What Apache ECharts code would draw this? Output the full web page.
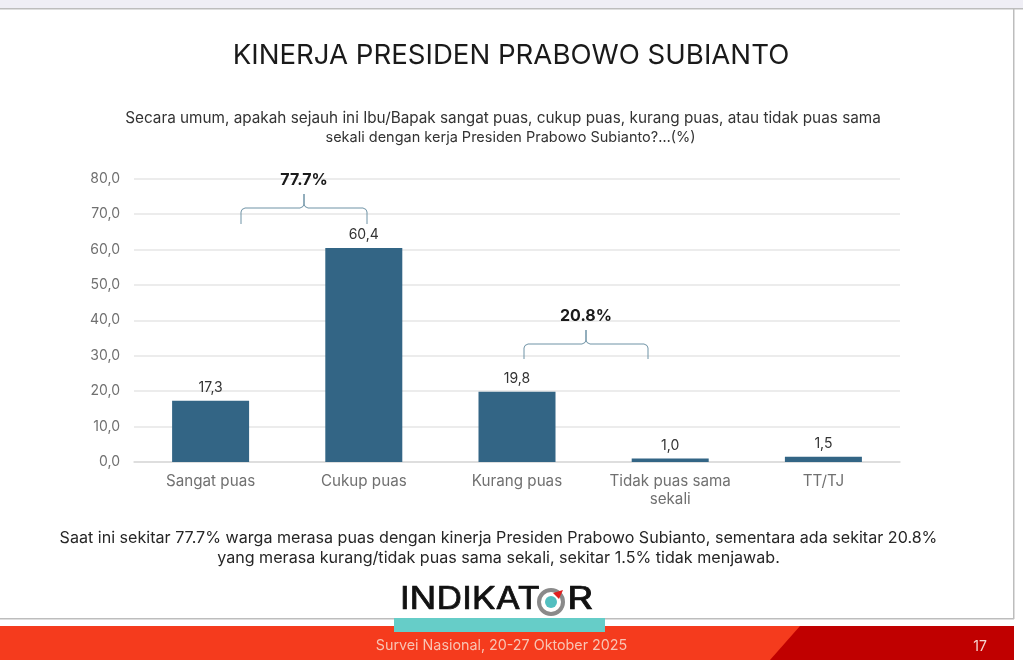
<!DOCTYPE html>
<html lang="id">
<head>
<meta charset="UTF-8">
<title>Kinerja Presiden</title>
<script src="https://cdn.jsdelivr.net/npm/echarts@6/dist/echarts.min.js"></script>
<style>
  html, body { margin: 0; padding: 0; background: #fff; }
  #chart { width: 1023px; height: 660px; }
</style>
</head>
<body>
<div id="chart"></div>
<script>
const categories = ['Sangat puas', 'Cukup puas', 'Kurang puas', 'Tidak puas sama\nsekali', 'TT/TJ'];
const values = [17.3, 60.4, 19.8, 1.0, 1.5];
const yTicks = { min: 0, max: 80, interval: 10 };

const titleText = 'KINERJA PRESIDEN PRABOWO SUBIANTO';
const questionLine1 = 'Secara umum, apakah sejauh ini Ibu/Bapak sangat puas, cukup puas, kurang puas, atau tidak puas sama';
const questionLine2 = 'sekali dengan kerja Presiden Prabowo Subianto?…(%)';
const noteText = 'Saat ini sekitar 77.7% warga merasa puas dengan kinerja Presiden Prabowo Subianto, sementara ada sekitar 20.8%\nyang merasa kurang/tidak puas sama sekali, sekitar 1.5% tidak menjawab.';
const footerText = 'Survei Nasional, 20-27 Oktober 2025';
const pageNumber = '17';

const font = 'Inter';
const comma = function (v) { return v.toFixed(1).replace('.', ','); };

// curly bracket as a polyline, tip on top
function bracket(x1, x2, top, y, bottom) {
  const m = (x1 + x2) / 2;
  return [
    [x1, bottom], [x1, y + 4], [x1 + 1, y + 1.5], [x1 + 4, y],
    [m - 4, y], [m - 1, y - 1.5], [m, y - 4], [m, top], [m, y - 4], [m + 1, y - 1.5], [m + 4, y],
    [x2 - 4, y], [x2 - 1, y + 1.5], [x2, y + 4], [x2, bottom]
  ];
}

var myChart = echarts.init(document.getElementById('chart'), null, { renderer: 'canvas' });

var option = {
  animation: false,
  backgroundColor: '#ffffff',
  textStyle: { fontFamily: font },
  grid: { left: 134, right: 123, top: 178.5, bottom: 198 },
  xAxis: {
    type: 'category',
    data: categories,
    axisTick: { show: false },
    axisLine: { lineStyle: { color: '#d9d9d9', width: 1.5 } },
    axisLabel: { color: '#707070', fontSize: 15.2, margin: 10, lineHeight: 18, interval: 0, fontFamily: font }
  },
  yAxis: {
    type: 'value',
    min: yTicks.min,
    max: yTicks.max,
    interval: yTicks.interval,
    axisLine: { show: false },
    axisTick: { show: false },
    splitLine: { lineStyle: { color: '#e6e6e6', width: 1.5 } },
    axisLabel: { color: '#707070', fontSize: 14, margin: 14, padding: [4, 0, 0, 0], formatter: comma, fontFamily: font }
  },
  series: [{
    type: 'bar',
    data: values,
    barWidth: 77,
    itemStyle: { color: '#336585' },
    label: {
      show: true,
      position: 'top',
      distance: 6,
      color: '#333333',
      fontSize: 14,
      fontFamily: font,
      formatter: function (p) { return comma(p.value); }
    }
  }],
  graphic: [
    // slide frame
    { type: 'rect', z: -10, silent: true, shape: { x: 0, y: 0, width: 1023, height: 8 }, style: { fill: '#efeef5' } },
    { type: 'rect', z: -10, silent: true, shape: { x: 0, y: 8, width: 1023, height: 1.5 }, style: { fill: '#bdbdbd' } },
    { type: 'rect', z: -10, silent: true, shape: { x: 0, y: 618, width: 1014, height: 1.5 }, style: { fill: '#bdbdbd' } },
    { type: 'rect', z: -10, silent: true, shape: { x: 1013, y: 8, width: 1.5, height: 611 }, style: { fill: '#bdbdbd' } },
    // footer
    { type: 'rect', z: 1, silent: true, shape: { x: 0, y: 626, width: 1014, height: 34 }, style: { fill: '#f53b1d' } },
    { type: 'polygon', z: 2, silent: true, shape: { points: [[800, 626], [1014, 626], [1014, 660], [770, 660]] }, style: { fill: '#c00000' } },
    { type: 'rect', z: 3, silent: true, shape: { x: 394, y: 618, width: 211, height: 14 }, style: { fill: '#66cdc8' } },
    { type: 'text', z: 4, silent: true, style: { x: 501.5, y: 646, text: footerText, fill: '#f8c4b4', font: '14.3px ' + font, align: 'center', verticalAlign: 'middle' } },
    { type: 'text', z: 4, silent: true, style: { x: 980, y: 647, text: pageNumber, fill: '#f6d5d0', font: '14px ' + font, align: 'center', verticalAlign: 'middle' } },
    // heading texts
    { type: 'text', silent: true, style: { x: 511, y: 56, text: titleText, fill: '#1a1a1a', font: '27.6px ' + font, align: 'center', verticalAlign: 'middle' } },
    { type: 'text', silent: true, style: { x: 503, y: 118, text: questionLine1, fill: '#333333', font: '15.3px ' + font, align: 'center', verticalAlign: 'middle' } },
    { type: 'text', silent: true, style: { x: 510.5, y: 138, text: questionLine2, fill: '#333333', font: '14.5px ' + font, align: 'center', verticalAlign: 'middle' } },
    { type: 'text', silent: true, style: { x: 498.5, y: 548, text: noteText, fill: '#262626', font: '16.1px ' + font, lineHeight: 20, align: 'center', verticalAlign: 'middle' } },
    // brackets
    { type: 'polyline', z: 5, silent: true, shape: { points: bracket(241, 367, 194, 208, 224) }, style: { fill: null, stroke: '#6f93a6', lineWidth: 1 } },
    { type: 'text', z: 5, silent: true, style: { x: 304, y: 180, text: '77.7%', fill: '#1a1a1a', font: 'bold 16px ' + font, align: 'center', verticalAlign: 'middle' } },
    { type: 'polyline', z: 5, silent: true, shape: { points: bracket(524, 648, 330, 344, 359) }, style: { fill: null, stroke: '#6f93a6', lineWidth: 1 } },
    { type: 'text', z: 5, silent: true, style: { x: 586, y: 316, text: '20.8%', fill: '#1a1a1a', font: 'bold 16px ' + font, align: 'center', verticalAlign: 'middle' } },
    // logo
    { type: 'text', z: 6, silent: true, x: 400, y: 600, scaleX: 1.15, style: { x: 0, y: 0, text: 'INDIKAT', fill: '#111111', stroke: '#111111', lineWidth: 0.7, font: '31px ' + font, align: 'left', verticalAlign: 'middle' } },
    { type: 'circle', z: 7, silent: true, shape: { cx: 551, cy: 602, r: 12 }, style: { fill: '#ffffff', stroke: '#8a8a8a', lineWidth: 4 } },
    { type: 'circle', z: 7, silent: true, shape: { cx: 551, cy: 602, r: 6 }, style: { fill: '#52bfc0' } },
    { type: 'polygon', z: 7, silent: true, shape: { points: [[553, 593], [563, 590], [559, 599]] }, style: { fill: '#e02020' } },
    { type: 'text', z: 6, silent: true, x: 567, y: 600, scaleX: 1.3, style: { x: 0, y: 0, text: 'R', fill: '#111111', stroke: '#111111', lineWidth: 0.7, font: '31px ' + font, align: 'left', verticalAlign: 'middle' } }
  ]
};

if (option && typeof option === 'object') {
  myChart.setOption(option);
}
window.addEventListener('resize', myChart.resize);
</script>
</body>
</html>
